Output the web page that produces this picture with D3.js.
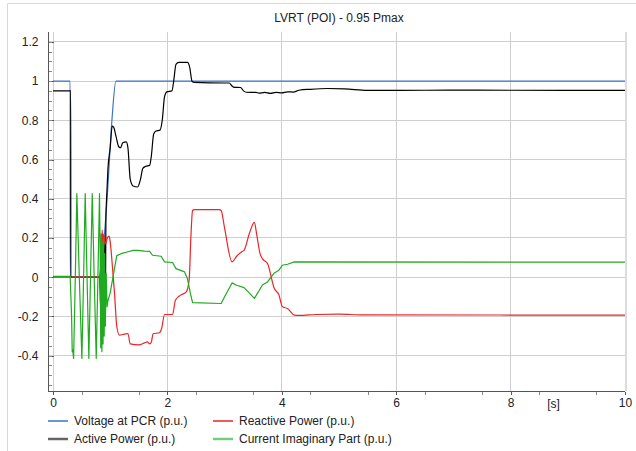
<!DOCTYPE html>
<meta charset='utf-8'>
<style>
    body { margin: 0; background: #fff; }
    svg { font-family: 'Liberation Sans', Arial, sans-serif; }
    .grid line { stroke: #cfcfcf; shape-rendering: crispEdges; }
    .axis path, .axis line { stroke: #555; shape-rendering: crispEdges; }
    .axis text { fill: #222; font-size: 12px; }
    .minor line { stroke: #888; }
    .series { fill: none; stroke-width: 1.2; stroke-linejoin: round; }
</style>
<body>
<script src='https://cdn.jsdelivr.net/npm/d3@7'></script>
<script>
// [time (s), value (p.u.)]
const voltage = [[0,1],[0.3,1],[0.301,0],[0.8,0],[0.85,0.08],[0.9,0.22],[0.95,0.42],[1.03,0.8],[1.1,1],[10,1]];

const active = [[0,0.95],[0.31,0.95],[0.311,0],[0.82,0],[0.83,-0.15],[0.845,0.02],[0.86,-0.1],[0.875,0.12],
    [0.89,-0.13],[0.905,0.2],[0.915,-0.2],[0.925,0.3],[0.94,0.42],[0.96,0.55],[1.0,0.66],[1.035,0.77],
    [1.06,0.765],[1.1,0.72],[1.15,0.665],[1.18,0.66],[1.22,0.685],[1.28,0.69],[1.31,0.66],[1.35,0.5],
    [1.4,0.465],[1.48,0.46],[1.53,0.5],[1.57,0.555],[1.62,0.565],[1.69,0.57],[1.72,0.62],[1.76,0.73],
    [1.8,0.745],[1.87,0.75],[1.91,0.8],[1.95,0.92],[1.99,0.945],[2.08,0.95],[2.11,1.0],[2.15,1.085],
    [2.2,1.095],[2.35,1.095],[2.39,1.07],[2.43,1.0],[2.47,0.993],[3.0,0.99],[3.08,0.99],[3.13,0.975],
    [3.17,0.968],[3.28,0.967],[3.33,0.95],[3.38,0.943],[3.55,0.942],[3.6,0.938],[3.7,0.942],[3.8,0.937],
    [3.9,0.942],[4.0,0.94],[4.1,0.945],[4.2,0.944],[4.3,0.953],[4.5,0.958],[4.8,0.962],[5.1,0.96],
    [5.5,0.952],[6.0,0.952],[7,0.954],[8,0.953],[10,0.952]];

const reactive = [[0,0],[0.81,0],[0.825,-0.06],[0.84,0.22],[0.85,0.12],[0.86,0.24],[0.87,0.15],[0.88,0.22],
    [0.89,0.16],[0.9,0.21],[0.92,0.17],[0.95,0.2],[0.98,0.21],[1.0,0.18],[1.04,0.05],[1.075,-0.08],
    [1.115,-0.25],[1.16,-0.295],[1.25,-0.29],[1.31,-0.287],[1.35,-0.34],[1.5,-0.345],[1.6,-0.335],
    [1.65,-0.33],[1.69,-0.34],[1.72,-0.33],[1.75,-0.288],[1.86,-0.283],[1.9,-0.26],[1.95,-0.19],
    [2.09,-0.19],[2.14,-0.117],[2.24,-0.09],[2.33,-0.075],[2.38,-0.015],[2.41,0.2],[2.44,0.34],
    [2.47,0.345],[2.9,0.345],[2.94,0.34],[3.0,0.25],[3.13,0.078],[3.21,0.107],[3.3,0.13],[3.34,0.137],
    [3.43,0.22],[3.52,0.28],[3.56,0.22],[3.62,0.12],[3.66,0.095],[3.75,0.07],[3.87,-0.058],[3.95,-0.09],
    [4.01,-0.15],[4.1,-0.16],[4.22,-0.193],[4.3,-0.195],[4.6,-0.19],[5.0,-0.188],[5.4,-0.192],[10,-0.193]];

const current = [[0,0.004],[0.3,0.004],[0.325,-0.2],[0.336,-0.38],[0.345,-0.37],[0.36,-0.414],[0.39,0.0],
    [0.417,0.426],[0.46,0.0],[0.505,-0.414],[0.535,0.0],[0.563,0.426],[0.595,0.0],[0.627,-0.414],
    [0.656,0.0],[0.686,0.426],[0.72,0.0],[0.756,-0.414],[0.785,0.0],[0.813,0.426],[0.825,0.1],
    [0.835,-0.36],[0.845,0.22],[0.855,-0.38],[0.865,0.18],[0.875,-0.34],[0.885,0.2],[0.895,-0.3],
    [0.905,0.12],[0.915,-0.25],[0.93,0.02],[0.945,-0.15],[0.96,-0.12],[1.0,-0.08],[1.06,0.02],
    [1.115,0.11],[1.19,0.12],[1.31,0.13],[1.4,0.137],[1.48,0.137],[1.6,0.133],[1.69,0.132],[1.74,0.112],
    [1.89,0.107],[1.95,0.078],[2.09,0.075],[2.15,0.044],[2.3,0.027],[2.35,-0.007],[2.4,-0.08],
    [2.44,-0.13],[2.94,-0.134],[3.0,-0.1],[3.13,-0.029],[3.21,-0.041],[3.34,-0.053],[3.43,-0.08],
    [3.52,-0.108],[3.6,-0.07],[3.66,-0.04],[3.75,-0.024],[3.87,0.022],[3.95,0.036],[4.01,0.061],
    [4.1,0.066],[4.22,0.078],[10,0.077]];

const seriesNames = ['Voltage at PCR (p.u.)', 'Active Power (p.u.)', 'Reactive Power (p.u.)', 'Current Imaginary Part (p.u.)'];
const xTicks = [0, 2, 4, 6, 8, 10];
const yTicks = [-0.4, -0.2, 0, 0.2, 0.4, 0.6, 0.8, 1, 1.2];

const colors = ['#3a74c9', '#000000', '#ec2424', '#1faa1f'];
const legendColors = ['#3a74c9', '#666666', '#ec2424', '#77cc77'];

const W = 636, H = 451;
const svg = d3.select('body').append('svg').attr('width', W).attr('height', H);

const x = d3.scaleLinear().domain([0, 10]).range([53, 625]);
const y = d3.scaleLinear().domain([-0.58, 1.25]).range([391, 32]);

// outer frame
svg.append('path').attr('d', 'M7.5,460V3.5H640').attr('fill', 'none').attr('stroke', '#d8d8d8');

// title
svg.append('text').attr('x', 339).attr('y', 22).attr('text-anchor', 'middle')
    .style('font-size', '12px').attr('fill', '#222').text('LVRT (POI) - 0.95 Pmax');

// grid
const grid = svg.append('g').attr('class', 'grid');
grid.selectAll('.gx').data(xTicks).enter().append('line')
    .attr('x1', d => x(d)).attr('x2', d => x(d)).attr('y1', 32).attr('y2', 391);
grid.selectAll('.gy').data(yTicks).enter().append('line')
    .attr('x1', 48).attr('x2', 625).attr('y1', d => y(d)).attr('y2', d => y(d));
svg.append('line').attr('x1', 626).attr('x2', 626).attr('y1', 32).attr('y2', 391)
    .attr('stroke', '#dcdcdc').attr('stroke-width', 2);

// y axis
const fmt = d => String(+d.toFixed(2));
const yAxis = svg.append('g').attr('class', 'axis').attr('transform', 'translate(48.5,0)')
    .call(d3.axisLeft(y).tickValues(yTicks).tickSizeInner(-5).tickSizeOuter(0).tickPadding(10).tickFormat(fmt));
yAxis.select('.domain').attr('d', 'M0,32V391').attr('stroke', '#333');
const yMinor = d3.range(-55, 125, 5).map(d => d / 100);
svg.append('g').attr('class', 'axis minor').attr('transform', 'translate(48.5,0)')
    .call(d3.axisLeft(y).tickValues(yMinor).tickSizeInner(-3).tickSizeOuter(0).tickFormat(''))
    .select('.domain').remove();

// x axis
const xAxis = svg.append('g').attr('class', 'axis').attr('transform', 'translate(0,391.5)')
    .call(d3.axisBottom(x).tickValues(xTicks).tickSizeInner(3).tickSizeOuter(0).tickPadding(4).tickFormat(d3.format('d')));
xAxis.select('.domain').attr('d', 'M48,0H625').attr('stroke', '#333');
svg.append('g').attr('class', 'axis minor').attr('transform', 'translate(0,391.5)')
    .call(d3.axisBottom(x).tickValues(d3.range(1, 20, 2).map(d => d / 2)).tickSizeInner(3).tickSizeOuter(0).tickFormat(''))
    .select('.domain').remove();
svg.append('text').attr('x', x(8.75)).attr('y', 408).attr('text-anchor', 'middle')
    .style('font-size', '12px').attr('fill', '#222').text('[s]');

// series (smoothed, except the fast oscillation which stays piecewise linear)
const smooth = d3.line().x(d => x(d[0])).y(d => y(d[1])).curve(d3.curveMonotoneX);
const plain = d3.line().x(d => x(d[0])).y(d => y(d[1]));
const plot = svg.append('g');
[voltage, active, reactive, current].forEach((s, i) => {
    plot.append('path').attr('class', 'series').attr('d', (i === 3 ? plain : smooth)(s)).attr('stroke', colors[i]);
});

// legend
const legend = svg.append('g').selectAll('.legend').data(seriesNames).enter().append('g')
    .attr('transform', (d, i) => `translate(${i < 2 ? 48 : 213}, ${i % 2 ? 439 : 421})`);
legend.append('line').attr('x1', 0).attr('x2', 20)
    .attr('stroke', (d, i) => legendColors[i]).attr('stroke-width', (d, i) => i % 2 ? 2.5 : 1.5);
legend.append('text').attr('x', 26).attr('dy', '0.35em').style('font-size', '12px').attr('fill', '#222').text(d => d);
</script>
</body>
